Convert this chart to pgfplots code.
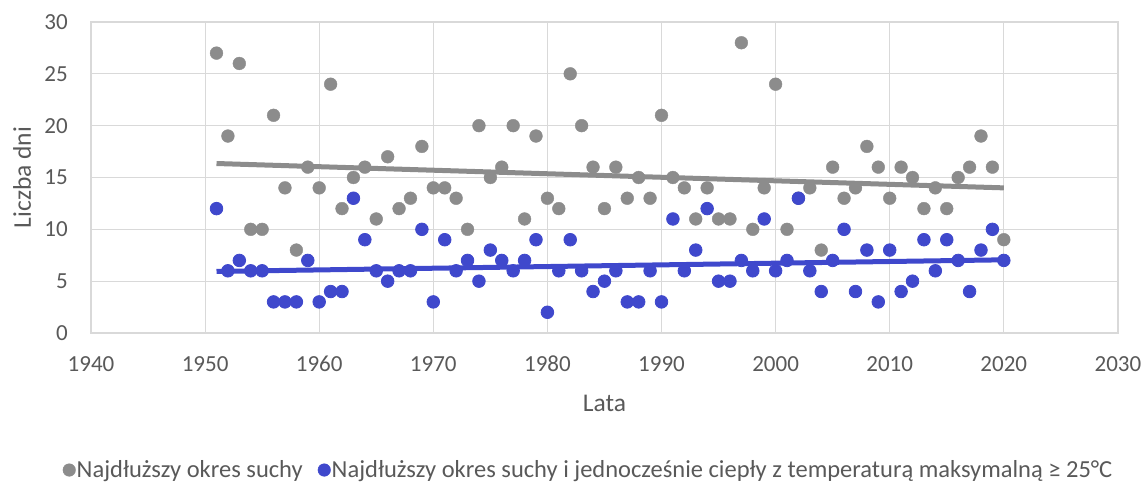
\documentclass[border=0pt]{standalone}
\usepackage{pgfplots}
\pgfplotsset{compat=1.18}
\usepackage{pgfplotstable}
\usepackage{fontspec}
\setmainfont{Carlito}
\definecolor{gridc}{HTML}{D9D9D9}
\definecolor{txt}{HTML}{595959}
\definecolor{grayp}{HTML}{8C8C8C}
\definecolor{bluep}{HTML}{3F48CC}
\pgfplotstableread{
year g b
1951 27 12
1952 19 6
1953 26 7
1954 10 6
1955 10 6
1956 21 3
1957 14 3
1958 8 3
1959 16 7
1960 14 3
1961 24 4
1962 12 4
1963 15 13
1964 16 9
1965 11 6
1966 17 5
1967 12 6
1968 13 6
1969 18 10
1970 14 3
1971 14 9
1972 13 6
1973 10 7
1974 20 5
1975 15 8
1976 16 7
1977 20 6
1978 11 7
1979 19 9
1980 13 2
1981 12 6
1982 25 9
1983 20 6
1984 16 4
1985 12 5
1986 16 6
1987 13 3
1988 15 3
1989 13 6
1990 21 3
1991 15 11
1992 14 6
1993 11 8
1994 14 12
1995 11 5
1996 11 5
1997 28 7
1998 10 6
1999 14 11
2000 24 6
2001 10 7
2002 13 13
2003 14 6
2004 8 4
2005 16 7
2006 13 10
2007 14 4
2008 18 8
2009 16 3
2010 13 8
2011 16 4
2012 15 5
2013 12 9
2014 14 6
2015 12 9
2016 15 7
2017 16 4
2018 19 8
2019 16 10
2020 9 7
}\data
\begin{document}
\begin{tikzpicture}
\useasboundingbox (-91pt,-150pt) rectangle (1051pt,333pt);
\begin{axis}[
  at={(0,0)}, anchor=south west,
  scale only axis, width=1027pt, height=311pt,
  xmin=1940, xmax=2030, ymin=0, ymax=30,
  xtick={1940,1950,...,2030}, ytick={0,5,...,30},
  /pgf/number format/1000 sep={},
  /pgf/number format/assume math mode=true,
  grid=major, major grid style={draw=gridc, line width=1.2pt},
  axis line style={draw=gridc, line width=1.2pt},
  tick style={draw=none},
  ticklabel style={font=\fontsize{23}{27}\selectfont, text=txt, inner sep=0pt},
  xticklabel style={anchor=base, yshift=-38.5pt},
  yticklabel style={anchor=east, xshift=-23pt},
  xlabel={Lata}, ylabel={Liczba dni},
  label style={font=\fontsize{25.5}{30}\selectfont, text=txt},
  xlabel style={at={(axis description cs:0.5,-0.225)}, anchor=center},
  ylabel style={at={(axis description cs:-0.0672,0.5)}, anchor=center},
  legend columns=2,
  legend style={draw=none, fill=none, at={(axis description cs:0.484,-0.4405)}, anchor=center,
    font=\fontsize{24.5}{29}\selectfont, text=txt,
    /tikz/every even column/.append style={column sep=14pt},
    nodes={inner sep=1pt}},
  legend image code/.code={\fill[#1] (0.25cm,0pt) circle (6.3pt);},
]
\addplot[only marks, mark=*, mark size=6.4pt, color=grayp, mark options={fill=grayp, draw=none}] table[x=year, y=g] {\data};
\addlegendentry{Najdłuższy okres suchy}
\addplot[only marks, mark=*, mark size=6.3pt, color=bluep, mark options={fill=bluep, draw=bluep, line width=0.8pt}] table[x=year, y=b] {\data};
\addlegendentry{Najdłuższy okres suchy i jednocześnie ciepły z temperaturą maksymalną ≥ 25°C}
\addplot[forget plot, grayp, line width=5pt] coordinates {(1951,16.35) (2020,14.0)};
\addplot[forget plot, bluep, line width=5pt] coordinates {(1951,5.94) (2020,7.06)};
\end{axis}
\end{tikzpicture}
\end{document}
